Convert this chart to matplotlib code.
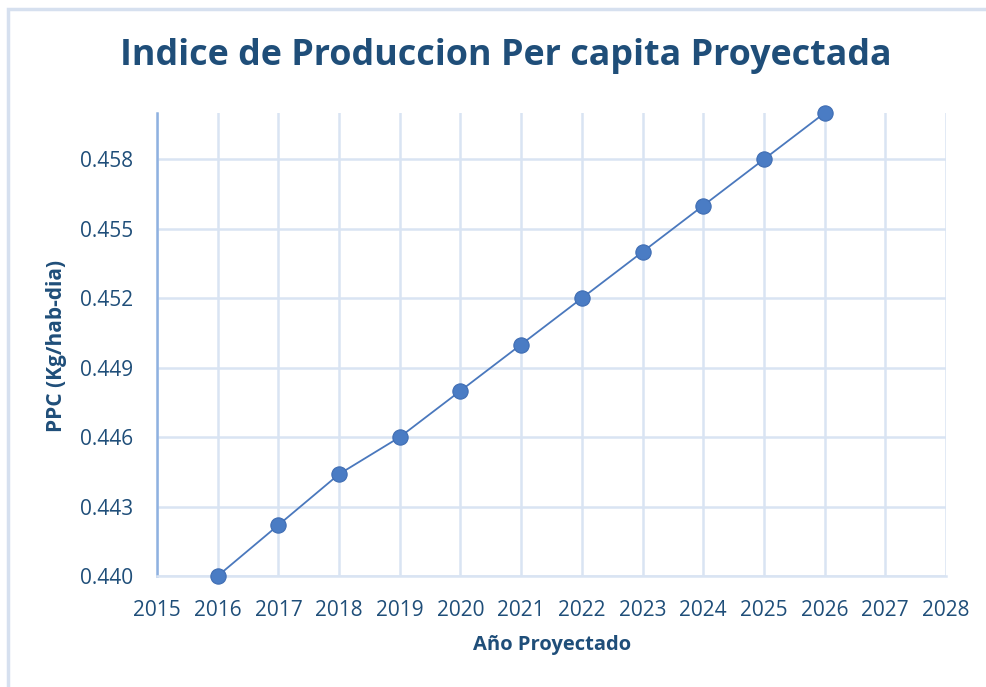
import matplotlib
matplotlib.use("Agg")
from matplotlib import pyplot as plt
from matplotlib.patches import Rectangle

# projected per-capita production
years = [2016, 2017, 2018, 2019, 2020, 2021, 2022, 2023, 2024, 2025, 2026]
ppc = [0.440, 0.4422, 0.4444, 0.446, 0.448, 0.450, 0.452, 0.454, 0.456, 0.458, 0.460]
x_ticks = list(range(2015, 2029))
y_ticks = [0.440, 0.443, 0.446, 0.449, 0.452, 0.455, 0.458]

plt.rcParams['font.family'] = ['Open Sans', 'DejaVu Sans']
text_col = '#1F4E79'
grid_col = '#D9E4F3'

fig = plt.figure(figsize=(9.87, 6.87), dpi=100)
ax = fig.add_axes([157 / 987, 111 / 687, 789 / 987, 463 / 687])

# light frame around the chart (top/left visible)
fig.patches.append(Rectangle((8.5 / 987, -0.05), 1.1, 1 - 8.5 / 687 + 0.05,
                             transform=fig.transFigure, fill=False,
                             edgecolor='#D6E0EF', linewidth=2.5))

ax.plot(years, ppc, color='#4A78BD', linewidth=1.3, marker='o',
        markersize=11, markerfacecolor='#4A7CC4', markeredgecolor='#3F6DB3',
        markeredgewidth=0.8, zorder=3, clip_on=False)

ax.set_xlim(2015, 2028)
ax.set_ylim(0.440, 0.460)
ax.set_xticks(x_ticks)
ax.set_yticks(y_ticks)
ax.set_yticklabels([f"{v:.3f}" for v in y_ticks])
ax.grid(True, color=grid_col, linewidth=1.8)
ax.set_axisbelow(True)
ax.tick_params(length=0, labelsize=15, labelcolor=text_col)
ax.tick_params(axis='x', pad=17)
ax.tick_params(axis='y', pad=17)

for s in ['top', 'right']:
    ax.spines[s].set_visible(False)
ax.spines['bottom'].set_color(grid_col)
ax.spines['bottom'].set_linewidth(1.8)
ax.spines['left'].set_color('#8FB1E0')
ax.spines['left'].set_linewidth(1.8)

fig.text(506 / 987, 1 - 56 / 687, "Indice de Produccion Per capita Proyectada",
         ha='center', va='center', fontsize=25.8, fontweight='bold', color=text_col)
fig.text(552 / 987, 1 - 645 / 687, "Año Proyectado", ha='center', va='center',
         fontsize=14.5, fontweight='bold', color=text_col)
fig.text(57 / 987, 1 - 346 / 687, "PPC (Kg/hab-dia)", ha='center', va='center',
         rotation=90, fontsize=15, fontweight='bold', color=text_col)

fig.savefig("out.png", dpi=100)
